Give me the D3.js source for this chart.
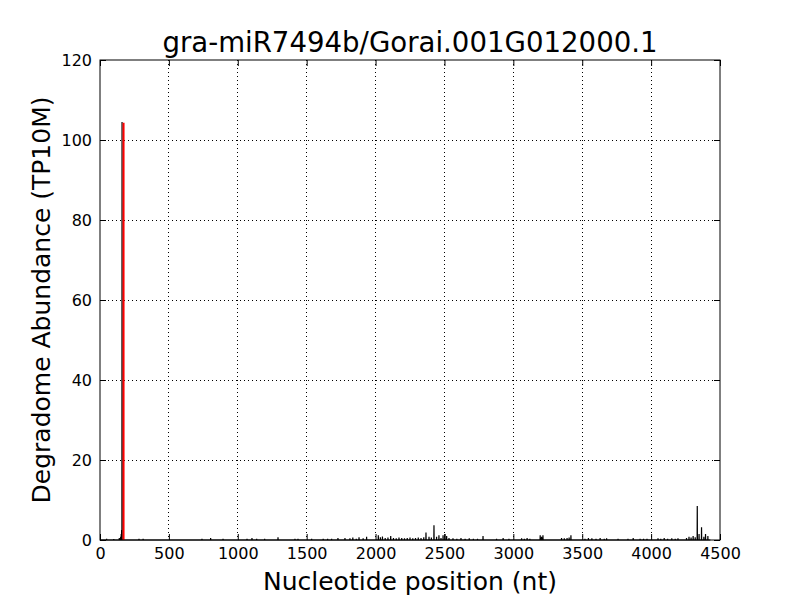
<!DOCTYPE html>
<html><head><meta charset="utf-8">
<script src="https://cdn.jsdelivr.net/npm/d3@7"></script>
<style>body{margin:0;background:#fff}text{font-family:"DejaVu Sans",sans-serif}</style>
</head><body><svg id="c" width="800" height="600"></svg>
<script>
const title = "gra-miR7494b/Gorai.001G012000.1";
const xLabel = "Nucleotide position (nt)";
const yLabel = "Degradome Abundance (TP10M)";
const xTicks = [0,500,1000,1500,2000,2500,3000,3500,4000,4500];
const yTicks = [0,20,40,60,80,100,120];
// sparse degradome read positions (nt) and abundances (TP10M)
const positions = [48,100,140,150,154,157,160,283,313,740,803,893,1067,1103,1137,1195,1292,1415,1437,1536,1620,1652,1681,1727,1778,1814,1835,1860,1880,1910,1935,2020,2035,2050,2070,2090,2110,2130,2150,2170,2190,2210,2230,2250,2270,2290,2310,2330,2350,2366,2388,2405,2424,2443,2460,2475,2490,2503,2516,2533,2562,2590,2620,2650,2680,2710,2740,2780,2878,2926,2968,3060,3080,3100,3120,3195,3205,3215,3350,3370,3390,3405,3418,3520,3545,3570,3600,3630,3660,3677,3760,3832,3870,3920,3945,3970,4050,4070,4095,4120,4150,4175,4195,4257,4275,4290,4305,4320,4335,4348,4366,4383,4395,4412];
const values = [0.3,0.2,0.5,0.8,1.5,2.5,104.5,0.3,0.3,0.3,0.5,0.3,0.3,0.5,0.3,0.3,0.7,0.3,0.3,0.3,0.3,0.3,0.3,0.5,0.5,0.4,0.6,0.3,0.7,0.4,0.8,1.2,0.7,0.9,0.5,0.6,1.0,0.5,0.4,0.6,0.5,0.4,0.5,0.6,0.4,0.5,0.6,0.5,0.7,1.9,0.8,0.6,3.7,0.8,1.2,0.5,1.2,1.5,1.0,0.5,0.4,0.3,0.5,0.3,0.4,0.3,0.3,1.0,0.3,0.5,0.3,0.4,0.3,0.5,0.3,1.2,0.8,1.2,0.5,0.4,0.5,0.6,1.2,0.3,0.5,0.4,0.3,0.5,0.3,0.4,0.3,0.3,0.5,0.3,0.3,0.3,0.4,0.3,0.5,0.3,0.4,0.3,0.4,0.5,0.8,0.6,1.0,0.7,8.5,1.5,3.2,0.8,1.5,1.0];
const sitePos = 171;
const siteValue = 104.3;

const svg = d3.select("#c");
const L=100,R=720,T=60,B=540;
const x = d3.scaleLinear().domain([0,4500]).range([L,R]);
const y = d3.scaleLinear().domain([0,120]).range([B,T]);

// grid
const g = svg.append("g");
g.selectAll(".gx").data(xTicks.slice(1,-1)).join("line")
 .attr("x1",d=>x(d)).attr("x2",d=>x(d)).attr("y1",T).attr("y2",B)
 .attr("stroke","#000").attr("stroke-width",1).attr("stroke-dasharray","1,3").attr("shape-rendering","crispEdges");
g.selectAll(".gy").data(yTicks.slice(1,-1)).join("line")
 .attr("y1",d=>y(d)).attr("y2",d=>y(d)).attr("x1",L).attr("x2",R)
 .attr("stroke","#000").attr("stroke-width",1).attr("stroke-dasharray","1,3").attr("shape-rendering","crispEdges");

// data line
const pts = [[0,0]];
positions.forEach((p,i)=>{pts.push([p-1,0],[p,values[i]],[p+1,0]);});
pts.push([4430,0]);
svg.append("path").datum(pts)
 .attr("d",d3.line().x(d=>x(d[0])).y(d=>y(d[1])))
 .attr("fill","none").attr("stroke","#000").attr("stroke-width",1.2);

// cleavage site
svg.append("line").attr("x1",x(sitePos)).attr("x2",x(sitePos)).attr("y1",y(0)).attr("y2",y(siteValue))
 .attr("stroke","#ff0000").attr("stroke-width",2);

// axes (ticks inside, mirrored)
const ax = (gen,tr)=>{const a=svg.append("g").attr("transform",tr).call(gen);a.select(".domain").remove();return a;};
const fmt = d3.format("d");
const xb = ax(d3.axisBottom(x).tickValues(xTicks).tickFormat(fmt).tickSizeInner(-6).tickSizeOuter(0).tickPadding(8),`translate(0,${B})`);
const xt = ax(d3.axisTop(x).tickValues(xTicks).tickSizeInner(-6).tickSizeOuter(0).tickFormat(""),`translate(0,${T})`);
const yl = ax(d3.axisLeft(y).tickValues(yTicks).tickFormat(fmt).tickSizeInner(-6).tickSizeOuter(0).tickPadding(8),`translate(${L},0)`);
const yr = ax(d3.axisRight(y).tickValues(yTicks).tickSizeInner(-6).tickSizeOuter(0).tickFormat(""),`translate(${R},0)`);
[xb,xt,yl,yr].forEach(a=>{a.selectAll("line").attr("stroke","#000");a.selectAll("text").attr("fill","#000").style("font-size","16px").style("font-family","DejaVu Sans");});
svg.append("rect").attr("x",L).attr("y",T).attr("width",R-L).attr("height",B-T)
 .attr("fill","none").attr("stroke","#000").attr("stroke-width",1);

svg.append("text").attr("x",(L+R)/2).attr("y",52).attr("text-anchor","middle").style("font-size","27.6px").text(title);
svg.append("text").attr("x",(L+R)/2).attr("y",590).attr("text-anchor","middle").style("font-size","25px").text(xLabel);
svg.append("text").attr("transform",`translate(50,${(T+B)/2}) rotate(-90)`).attr("text-anchor","middle").style("font-size","25px").text(yLabel);
</script></body></html>
